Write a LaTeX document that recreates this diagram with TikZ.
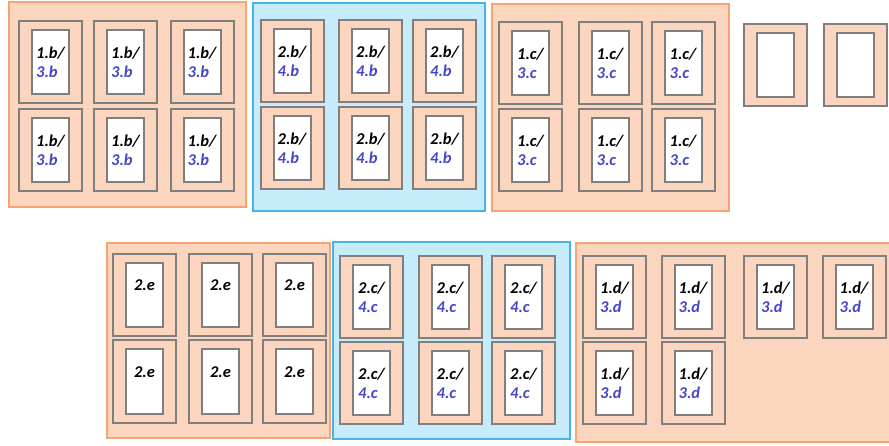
\documentclass[tikz,border=0pt]{standalone}
\usepackage{fontspec}
\newfontfamily\cardfont{Carlito}
\definecolor{peach}{HTML}{FCD5BE}
\definecolor{peachline}{HTML}{F5A474}
\definecolor{skyfill}{HTML}{C6ECFC}
\definecolor{skyline}{HTML}{4AB3E6}
\definecolor{frameline}{HTML}{7F7F7F}
\definecolor{labelblue}{HTML}{4646C8}
\tikzset{
  orangegroup/.style={draw=peachline, fill=peach, line width=1.2pt},
  bluegroup/.style={draw=skyline, fill=skyfill, line width=1.2pt},
  outerframe/.style={draw=frameline, fill=peach, line width=2pt,
    minimum width=63pt, minimum height=82pt, inner sep=0pt},
  innercard/.style={draw=frameline, fill=white, line width=2pt,
    minimum width=37pt, minimum height=64pt, inner sep=0pt, align=left,
    font=\cardfont\bfseries\itshape\fontsize{16.5}{19}\selectfont},
}
\begin{document}
\begin{tikzpicture}[x=1pt, y=-1pt]
  \useasboundingbox (0,0) rectangle (889,446);
  % Groups
  \draw[orangegroup] (9,2) rectangle (246,207);
  \draw[bluegroup] (253,3) rectangle (485,211);
  \draw[orangegroup] (492,4) rectangle (729,211);
  \draw[orangegroup] (107,243) rectangle (330,438);
  \draw[bluegroup] (333,242) rectangle (570,439);
  \draw[orangegroup] (576,243) rectangle (893,442);
  % Group 1
  \foreach \x [count=\c] in {50.5,125.5,202}
    \foreach \y [count=\r] in {62.5,150} {
      \node[outerframe] (g1f\c\r) at (\x,\y) {};
      \node[innercard] (g1c\c\r) at (\x,\y) {1.b/\\\color{labelblue}3.b};
    }
  % Group 2
  \foreach \x [count=\c] in {292,370.5,444.5}
    \foreach \y [count=\r] in {61,148} {
      \node[outerframe] (g2f\c\r) at (\x,\y) {};
      \node[innercard] (g2c\c\r) at (\x,\y) {2.b/\\\color{labelblue}4.b};
    }
  % Group 3
  \foreach \x [count=\c] in {530.5,610,683}
    \foreach \y [count=\r] in {63.5,150} {
      \node[outerframe] (g3f\c\r) at (\x,\y) {};
      \node[innercard] (g3c\c\r) at (\x,\y) {1.c/\\\color{labelblue}3.c};
    }
  % Empty frames
  \foreach \x [count=\c] in {775.5,855} {
    \node[outerframe] (ef\c) at (\x,65.5) {};
    \node[innercard] (ec\c) at (\x,65.5) {};
  }
  % Group 4
  \foreach \x [count=\c] in {144.5,220.5,294.5}
    \foreach \y [count=\r] in {295,381.5} {
      \node[outerframe] (g4f\c\r) at (\x,\y) {};
      \node[innercard] (g4c\c\r) at (\x,\y) {2.e\\\phantom{2.e}};
    }
  % Group 5
  \foreach \x [count=\c] in {371.5,450,523.5}
    \foreach \y [count=\r] in {297,383} {
      \node[outerframe] (g5f\c\r) at (\x,\y) {};
      \node[innercard] (g5c\c\r) at (\x,\y) {2.c/\\\color{labelblue}4.c};
    }
  % Group 6
  \foreach \x [count=\c] in {614.5,693,775.5,854} {
    \node[outerframe] (g6f\c1) at (\x,297) {};
    \node[innercard] (g6c\c1) at (\x,297) {1.d/\\\color{labelblue}3.d};
  }
  \foreach \x [count=\c] in {614.5,693} {
    \node[outerframe] (g6f\c2) at (\x,383) {};
    \node[innercard] (g6c\c2) at (\x,383) {1.d/\\\color{labelblue}3.d};
  }
\end{tikzpicture}
\end{document}
